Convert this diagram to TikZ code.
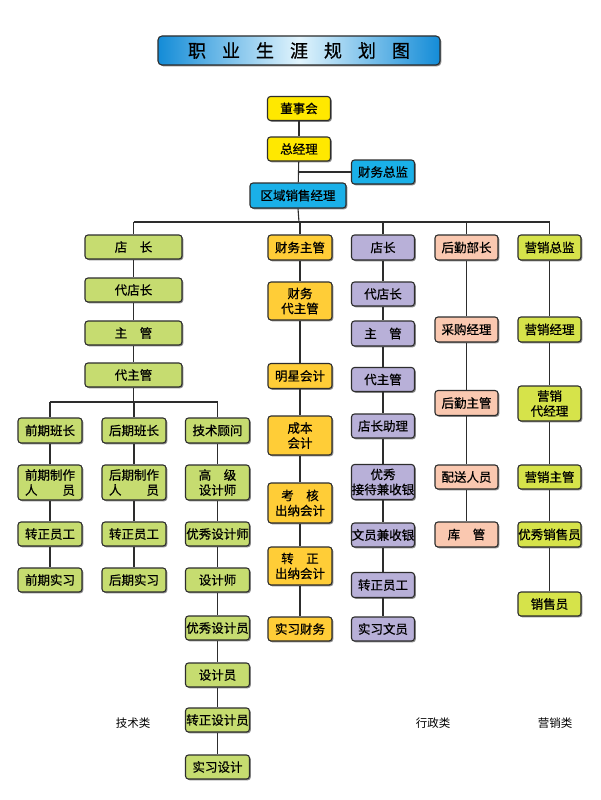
\documentclass[tikz,border=0pt]{standalone}
\usepackage{fontspec}
\setmainfont{Noto Sans CJK SC}[BoldFont={Noto Sans CJK SC}, BoldFeatures={FakeBold=0.6}]
\usetikzlibrary{shadows}
\definecolor{cyel}{RGB}{255,232,0}
\definecolor{cblue}{RGB}{26,176,232}
\definecolor{cgreen}{RGB}{198,220,112}
\definecolor{corange}{RGB}{255,205,55}
\definecolor{cpurple}{RGB}{184,176,216}
\definecolor{csalmon}{RGB}{250,200,176}
\definecolor{clime}{RGB}{214,227,74}
\definecolor{tblue}{RGB}{20,140,215}
\definecolor{tmid}{RGB}{225,244,253}
\definecolor{edge}{RGB}{45,45,45}
\newcommand{\jsp}{\hspace{1em}}
\begin{document}
\begin{tikzpicture}[x=1pt,y=-1pt,
  box/.style={draw=edge, line width=1.1pt, rounded corners=3pt, inner sep=0pt,
    align=center, font=\fontsize{12.5}{15}\selectfont\bfseries,
    minimum width=64pt, minimum height=24pt,
    drop shadow={shadow xshift=1.3pt, shadow yshift=-1.3pt, fill=black, opacity=0.45}},
  conn/.style={draw=edge, line width=1.1pt},
  lbl/.style={font=\fontsize{11.5}{13}\selectfont, inner sep=0pt}]
\useasboundingbox[fill=white] (0,0) rectangle (600,800);

% title
\node[draw=edge, line width=1.1pt, rounded corners=4pt, minimum width=282pt, minimum height=29pt,
  left color=tblue, right color=tblue, middle color=tmid, inner sep=0pt,
  drop shadow={shadow xshift=1.3pt, shadow yshift=-1.3pt, fill=black, opacity=0.45},
  font=\fontsize{18}{20}\selectfont\bfseries] (title) at (299,50.5)
  {职\hspace{16pt}业\hspace{16pt}生\hspace{16pt}涯\hspace{16pt}规\hspace{16pt}划\hspace{16pt}图};

% top
\node[box, fill=cyel, minimum width=63pt] (dsh) at (299,108.5) {董事会};
\node[box, fill=cyel, minimum width=63pt] (zjl) at (299,149) {总经理};
\node[box, fill=cblue, minimum width=63pt] (cwzj) at (383,172) {财务总监};
\node[box, fill=cblue, minimum width=96pt, minimum height=25pt] (qy) at (298,195.5) {区域销售经理};

% column A
\node[box, fill=cgreen, minimum width=97pt] (a1) at (133.5,247) {店\jsp 长};
\node[box, fill=cgreen, minimum width=97pt] (a2) at (133.5,290) {代店长};
\node[box, fill=cgreen, minimum width=97pt] (a3) at (133.5,333) {主\jsp 管};
\node[box, fill=cgreen, minimum width=97pt] (a4) at (133.5,375) {代主管};

\node[box, fill=cgreen, minimum height=25pt] (p1) at (50,430.5) {前期班长};
\node[box, fill=cgreen, minimum height=35pt] (p2) at (50,482.5) {前期制作\\人\hspace{2em}员};
\node[box, fill=cgreen] (p3) at (50,534) {转正员工};
\node[box, fill=cgreen] (p4) at (50,580) {前期实习};

\node[box, fill=cgreen, minimum height=25pt] (q1) at (134,430.5) {后期班长};
\node[box, fill=cgreen, minimum height=35pt] (q2) at (134,482.5) {后期制作\\人\hspace{2em}员};
\node[box, fill=cgreen] (q3) at (134,534) {转正员工};
\node[box, fill=cgreen] (q4) at (134,580) {后期实习};

\node[box, fill=cgreen, minimum height=25pt] (t1) at (217.5,430.5) {技术顾问};
\node[box, fill=cgreen, minimum height=35pt] (t2) at (217.5,482.5) {高\jsp 级\\设计师};
\node[box, fill=cgreen] (t3) at (217.5,534) {优秀设计师};
\node[box, fill=cgreen] (t4) at (217.5,580) {设计师};
\node[box, fill=cgreen] (t5) at (217.5,628) {优秀设计员};
\node[box, fill=cgreen] (t6) at (217.5,675) {设计员};
\node[box, fill=cgreen] (t7) at (217.5,720) {转正设计员};
\node[box, fill=cgreen] (t8) at (217.5,767) {实习设计};

% column B
\node[box, fill=corange, minimum height=25pt] (b1) at (300,247.5) {财务主管};
\node[box, fill=corange, minimum height=38pt] (b2) at (300,301) {财务\\代主管};
\node[box, fill=corange, minimum height=25pt] (b3) at (300,376) {明星会计};
\node[box, fill=corange, minimum height=39pt] (b4) at (300,435.5) {成本\\会计};
\node[box, fill=corange, minimum height=40pt] (b5) at (300,503) {考\jsp 核\\出纳会计};
\node[box, fill=corange, minimum height=38pt] (b6) at (300,566) {转\jsp 正\\出纳会计};
\node[box, fill=corange] (b7) at (300,629) {实习财务};

% column C
\node[box, fill=cpurple, minimum width=63pt, minimum height=25pt] (c1) at (383,247.5) {店长};
\node[box, fill=cpurple, minimum width=63pt] (c2) at (383,294) {代店长};
\node[box, fill=cpurple, minimum width=63pt, minimum height=25pt] (c3) at (383,333.5) {主\jsp 管};
\node[box, fill=cpurple, minimum width=63pt] (c4) at (383,379.5) {代主管};
\node[box, fill=cpurple, minimum width=63pt] (c5) at (383,426) {店长助理};
\node[box, fill=cpurple, minimum width=63pt, minimum height=35pt] (c6) at (383,482) {优秀\\接待兼收银};
\node[box, fill=cpurple, minimum width=63pt] (c7) at (383,535) {文员兼收银};
\node[box, fill=cpurple, minimum width=63pt, minimum height=25pt] (c8) at (383,585) {转正员工};
\node[box, fill=cpurple, minimum width=63pt] (c9) at (383,629) {实习文员};

% column D
\node[box, fill=csalmon, minimum width=63pt, minimum height=25pt] (d1) at (466.5,247.5) {后勤部长};
\node[box, fill=csalmon, minimum width=63pt, minimum height=25pt] (d2) at (466.5,329.5) {采购经理};
\node[box, fill=csalmon, minimum width=63pt, minimum height=25pt] (d3) at (466.5,403) {后勤主管};
\node[box, fill=csalmon, minimum width=63pt] (d4) at (466.5,477) {配送人员};
\node[box, fill=csalmon, minimum width=63pt, minimum height=25pt] (d5) at (466.5,534.5) {库\jsp 管};

% column E
\node[box, fill=clime, minimum width=63pt, minimum height=25pt] (e1) at (549.5,247.5) {营销总监};
\node[box, fill=clime, minimum width=63pt, minimum height=25pt] (e2) at (549.5,329.5) {营销经理};
\node[box, fill=clime, minimum width=63pt, minimum height=35pt] (e3) at (549.5,403.5) {营销\\代经理};
\node[box, fill=clime, minimum width=63pt] (e4) at (549.5,477) {营销主管};
\node[box, fill=clime, minimum width=63pt, minimum height=25pt] (e5) at (549.5,534.5) {优秀销售员};
\node[box, fill=clime, minimum width=63pt] (e6) at (549.5,604) {销售员};

% labels
\node[lbl] (l1) at (133,723) {技术类};
\node[lbl] (l2) at (433,723) {行政类};
\node[lbl] (l3) at (555,723) {营销类};

% connectors
\coordinate (bus) at (299,222);
\coordinate (sbus) at (134,402);
\draw[conn] (dsh) -- (zjl);
\draw[conn] (zjl) -- (qy);
\draw[conn] (cwzj.west) -- (cwzj.west -| zjl.south);
\draw[conn] (qy.south) -- (bus);
\draw[conn] (a1.north |- bus) -- (e1.north |- bus);
\foreach \n in {a1,b1,c1,d1,e1} \draw[conn] (\n.north) -- (\n.north |- bus);
\draw[conn] (a1) -- (a2); \draw[conn] (a2) -- (a3); \draw[conn] (a3) -- (a4);
\draw[conn] (a4.south) -- (a4.south |- sbus);
\draw[conn] (p1.north |- sbus) -- (t1.north |- sbus);
\foreach \n in {p1,q1,t1} \draw[conn] (\n.north) -- (\n.north |- sbus);
\draw[conn] (p1) -- (p2); \draw[conn] (p2) -- (p3); \draw[conn] (p3) -- (p4);
\draw[conn] (q1) -- (q2); \draw[conn] (q2) -- (q3); \draw[conn] (q3) -- (q4);
\draw[conn] (t1) -- (t2); \draw[conn] (t2) -- (t3); \draw[conn] (t3) -- (t4);
\draw[conn] (t4) -- (t5); \draw[conn] (t5) -- (t6); \draw[conn] (t6) -- (t7); \draw[conn] (t7) -- (t8);
\draw[conn] (b1) -- (b2); \draw[conn] (b2) -- (b3); \draw[conn] (b3) -- (b4);
\draw[conn] (b4) -- (b5); \draw[conn] (b5) -- (b6); \draw[conn] (b6) -- (b7);
\draw[conn] (c1) -- (c2); \draw[conn] (c2) -- (c3); \draw[conn] (c3) -- (c4);
\draw[conn] (c4) -- (c5); \draw[conn] (c5) -- (c6); \draw[conn] (c6) -- (c7);
\draw[conn] (c7) -- (c8); \draw[conn] (c8) -- (c9);
\draw[conn] (d1) -- (d2); \draw[conn] (d2) -- (d3); \draw[conn] (d3) -- (d4); \draw[conn] (d4) -- (d5);
\draw[conn] (e1) -- (e2); \draw[conn] (e2) -- (e3); \draw[conn] (e3) -- (e4);
\draw[conn] (e4) -- (e5); \draw[conn] (e5) -- (e6);
\end{tikzpicture}
\end{document}
